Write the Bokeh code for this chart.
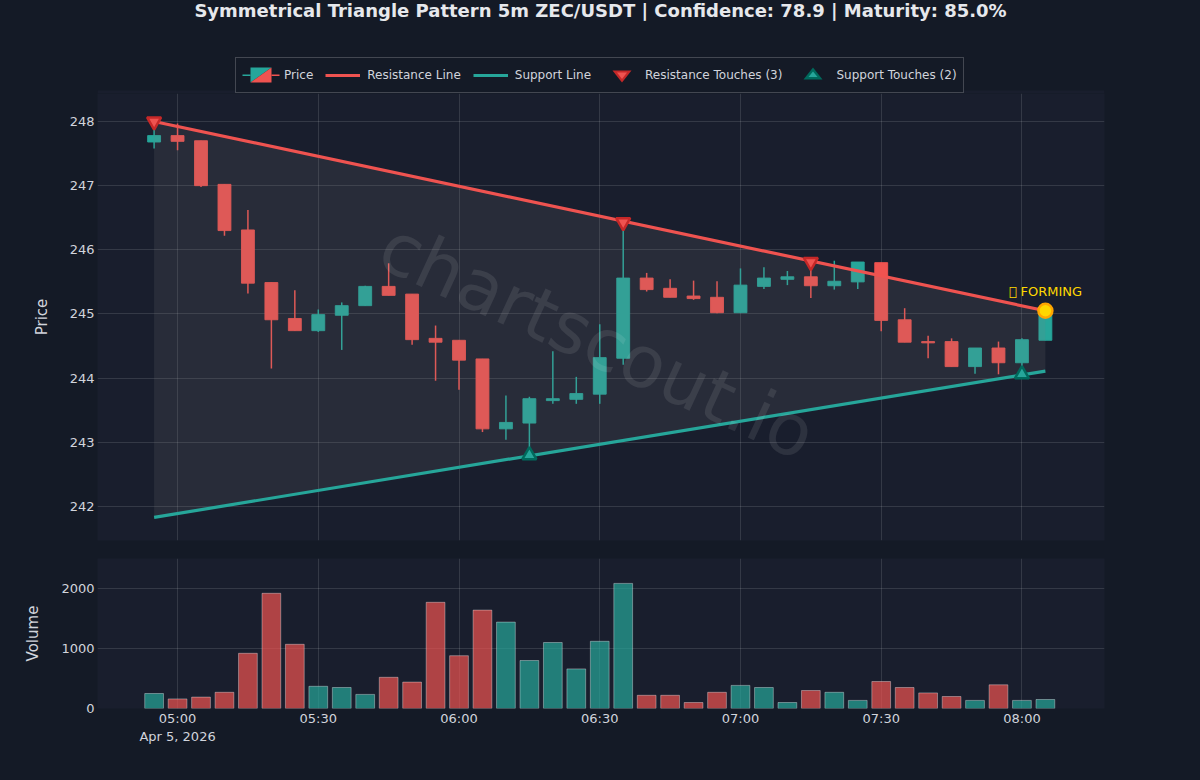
import pandas as pd
from bokeh.embed import file_html
from bokeh.resources import INLINE
from bokeh.layouts import column
from bokeh.plotting import figure
from bokeh.models import (BoxAnnotation, ColumnDataSource, FixedTicker, Label, Legend, LegendItem, PolyAnnotation, Range1d)

TITLE = "Symmetrical Triangle Pattern 5m ZEC/USDT | Confidence: 78.9 | Maturity: 85.0%"
START = "2026-04-05 04:55"

opens = [247.68,247.78,247.70,247.02,246.31,245.49,244.93,244.74,244.98,245.13,245.43,245.31,244.62,244.59,244.30,243.21,243.30,243.65,243.67,243.75,
         244.31,245.56,245.40,245.28,245.26,245.02,245.43,245.54,245.58,245.44,245.50,245.80,244.91,244.57,244.57,244.18,244.47,244.24,244.59]
highs = [247.98,247.97,247.70,247.02,246.62,245.49,245.37,245.07,245.18,245.44,245.79,245.31,244.82,244.59,244.30,243.73,243.71,244.42,244.02,244.84,
         246.43,245.64,245.54,245.52,245.51,245.71,245.73,245.67,245.86,245.83,245.81,245.80,245.09,244.66,244.62,244.47,244.57,244.62,245.07]
lows = [247.58,247.55,246.98,246.22,245.32,244.15,244.74,244.72,244.44,245.13,245.29,244.52,243.96,243.82,243.16,243.04,242.82,243.60,243.60,243.60,
        244.21,245.35,245.26,245.22,245.01,245.02,245.39,245.45,245.25,245.38,245.39,244.73,244.56,244.31,244.18,244.07,244.06,244.08,244.59]
closes = [247.78,247.69,247.00,246.30,245.48,244.91,244.74,244.99,245.13,245.43,245.29,244.60,244.56,244.28,243.21,243.31,243.68,243.68,243.76,244.32,
          245.56,245.38,245.26,245.24,245.02,245.45,245.56,245.58,245.44,245.51,245.81,244.90,244.56,244.55,244.18,244.47,244.24,244.60,245.00]
volumes = [250,160,190,270,920,1920,1070,370,350,235,520,440,1770,880,1640,1440,800,1100,660,1120,
           2085,220,220,100,270,385,350,100,300,270,135,450,350,260,200,135,395,135,150]

resistance_times = ["2026-04-05 04:55", "2026-04-05 08:05"]
resistance_prices = [248.0, 245.05]
support_times = ["2026-04-05 04:55", "2026-04-05 08:05"]
support_prices = [241.83, 244.11]
res_touch_times = ["2026-04-05 04:55", "2026-04-05 06:35", "2026-04-05 07:15"]
res_touch_prices = [248.0, 246.43, 245.81]
sup_touch_times = ["2026-04-05 06:15", "2026-04-05 08:00"]
sup_touch_prices = [242.80, 244.06]
forming_time = ["2026-04-05 08:05"]
forming_price = [245.05]
forming_text = "\uE000 FORMING"

x_tick_times = ["2026-04-05 05:00", "2026-04-05 05:30", "2026-04-05 06:00", "2026-04-05 06:30", "2026-04-05 07:00", "2026-04-05 07:30", "2026-04-05 08:00"]
x_tick_labels = ["05:00\nApr 5, 2026", "05:30", "06:00", "06:30", "07:00", "07:30", "08:00"]
price_ticks = [242, 243, 244, 245, 246, 247, 248]
volume_ticks = [0, 1000, 2000]

PAGE = "#141a26"
PLOT = "#191e2d"
RED = "#ef5350"
TEAL = "#26a69a"
DARK_RED = "#c62828"
DARK_TEAL = "#00695c"
TEXT = "#d1d4dc"
FONT = "DejaVu Sans"
CANVAS = {"background-color": PAGE}
W, H0 = 1200, 93


def ms(values):
    return [pd.Timestamp(v).value / 1e6 for v in values]


times = [pd.Timestamp(START) + pd.Timedelta(minutes=5 * i) for i in range(len(opens))]
tx = ms(times)
STEP = 5 * 60 * 1000
x_range = Range1d(ms(["2026-04-05 04:42:56"])[0], ms(["2026-04-05 08:17:36"])[0])
colors = [TEAL if c >= o else RED for o, c in zip(opens, closes)]
src = ColumnDataSource(dict(x=tx, o=opens, h=highs, l=lows, c=closes, v=volumes, color=colors))


def style(p):
    p.background_fill_color = PLOT
    p.border_fill_color = None
    p.outline_line_color = None
    for ax in p.axis:
        ax.axis_line_color = None
        ax.major_tick_line_color = None
        ax.minor_tick_line_color = None
        ax.major_label_text_color = TEXT
        ax.major_label_text_font = FONT
        ax.major_label_text_font_size = "13px"
        ax.axis_label_text_color = TEXT
        ax.axis_label_text_font = FONT
        ax.axis_label_text_font_size = "15px"
        ax.axis_label_text_font_style = "normal"
    for g in p.grid:
        g.grid_line_color = "#ffffff"
        g.grid_line_alpha = 0.12
        g.grid_line_width = 1


# ---- header: title and legend (its frame is aligned to the panels below) ----
header = figure(width=W, height=H0, x_range=Range1d(97, 1104), y_range=Range1d(H0, 0),
                output_backend="svg", toolbar_location=None, styles=CANVAS,
                min_border=0, min_border_left=97, min_border_right=96, x_axis_location=None, y_axis_location=None)
header.grid.visible = False
header.outline_line_color = None
header.background_fill_color = None
header.border_fill_color = None
for left, right in ((97, 235), (963, 1104)):
    header.add_layout(BoxAnnotation(left=left, right=right, top=90, bottom=93, fill_color=PLOT, fill_alpha=1.0,
                                    line_color=None, level="underlay"))
header.add_layout(Label(x=600, y=10, text=TITLE, text_align="center", text_baseline="middle",
                        text_color="#e6e8ec", text_font=FONT, text_font_size="18px", text_font_style="bold"))
OFF = [-50, -40]
key_price = header.segment(OFF, OFF, OFF, OFF, line_alpha=0)
key_res = header.line(OFF, OFF, line_color=RED, line_width=3.2)
key_sup = header.line(OFF, OFF, line_color=TEAL, line_width=3.2)
key_res_t = header.scatter(OFF, OFF, marker="inverted_triangle", fill_alpha=0, line_alpha=0)
key_sup_t = header.scatter(OFF, OFF, marker="triangle", fill_alpha=0, line_alpha=0)
legend = Legend(items=[
    LegendItem(label="Price", renderers=[key_price]),
    LegendItem(label="Resistance Line", renderers=[key_res]),
    LegendItem(label="Support Line", renderers=[key_sup]),
    LegendItem(label="Resistance Touches (3)", renderers=[key_res_t]),
    LegendItem(label="Support Touches (2)", renderers=[key_sup_t]),
], orientation="horizontal", location=(138, 0), glyph_width=35, glyph_height=22,
    label_standoff=7, spacing=12, padding=6, margin=0,
    background_fill_alpha=0,
    border_line_color="#ffffff", border_line_alpha=0.2, border_line_width=1,
    label_text_color=TEXT, label_text_font=FONT, label_text_font_size="12px")
header.add_layout(legend)


def icon(xs, ys, fill):
    header.add_layout(PolyAnnotation(xs=xs, ys=ys, fill_color=fill, fill_alpha=1.0, line_color=None,
                                     level="overlay"))


icon([242, 250, 250, 242], [74, 74, 75.5, 75.5], TEAL)
icon([250, 271, 250], [67, 67, 82], TEAL)
icon([271, 271, 250], [67, 82, 82], RED)
icon([271, 279, 279, 271], [74, 74, 75.5, 75.5], RED)
icon([612, 631, 621.5], [70, 70, 82], DARK_RED)
icon([616.5, 626.5, 621.5], [72, 72, 78.5], RED)
icon([803, 822, 812.5], [79, 79, 67], DARK_TEAL)
icon([808, 817, 812.5], [76.5, 76.5, 71], TEAL)

# ---- price panel ----
main = figure(width=W, height=457, x_range=x_range, y_range=Range1d(241.47, 248.436),
              x_axis_type="datetime", output_backend="svg", toolbar_location=None, styles=CANVAS,
              min_border_left=97, min_border_right=96, min_border_top=0, min_border_bottom=10)
main.xaxis.visible = False
main.xgrid.ticker = FixedTicker(ticks=ms(x_tick_times))
main.yaxis.ticker = FixedTicker(ticks=price_ticks)
main.yaxis.axis_label = "Price"
main.yaxis.major_label_standoff = -3
main.yaxis.axis_label_standoff = 16
style(main)

main.segment("x", "h", "x", "l", source=src, line_color="color", line_width=1.5)
main.vbar("x", width=STEP * 0.55, bottom="o", top="c", source=src,
          fill_color="color", line_color="color", line_alpha=0.9, line_width=1)

area_x = ms(resistance_times) + ms(support_times)[::-1]
area_y = resistance_prices + support_prices[::-1]
main.patch(area_x, area_y, fill_color="#808080", fill_alpha=0.15, line_color=None)

main.line(ms(resistance_times), resistance_prices, line_color=RED, line_width=3.2)
main.line(ms(support_times), support_prices, line_color=TEAL, line_width=3.2)
main.scatter(ms(res_touch_times), res_touch_prices, marker="inverted_triangle", size=14,
             fill_color=RED, line_color=DARK_RED, line_width=2.5)
main.scatter(ms(sup_touch_times), sup_touch_prices, marker="triangle", size=14,
             fill_color=TEAL, line_color=DARK_TEAL, line_width=2.5)
main.scatter(ms(forming_time), forming_price, marker="circle", size=14,
             fill_color="#ffd700", line_color="#ffa500", line_width=2.5)
main.add_layout(Label(x=ms(forming_time)[0], y=forming_price[0], y_offset=19, text=forming_text,
                      text_align="center", text_baseline="middle", text_color="#ffd700",
                      text_font=FONT, text_font_size="13px"))
main.add_layout(Label(x=597, y=340 - H0, x_units="canvas", y_units="canvas", text="chartscout.io", angle=-24.8,
                      angle_units="deg", text_align="center", text_baseline="middle",
                      text_color="#ffffff", text_alpha=0.09, text_font=FONT, text_font_size="72px"))

# ---- volume panel ----
vol = figure(width=W, height=230, x_range=x_range, y_range=Range1d(0, 2500),
             x_axis_type="datetime", output_backend="svg", toolbar_location=None, styles=CANVAS,
             min_border_left=97, min_border_right=96, min_border_top=8, min_border_bottom=72)
vol.xaxis.ticker = FixedTicker(ticks=ms(x_tick_times))
vol.xaxis.major_label_overrides = dict(zip(ms(x_tick_times), x_tick_labels))
vol.xgrid.ticker = FixedTicker(ticks=ms(x_tick_times))
vol.yaxis.ticker = FixedTicker(ticks=volume_ticks)
vol.yaxis.axis_label = "Volume"
vol.yaxis.major_label_standoff = -3
vol.yaxis.axis_label_standoff = 16
vol.xaxis.major_label_standoff = -4
style(vol)
vol.vbar("x", width=STEP * 0.8, bottom=0, top="v", source=src, fill_color="color", fill_alpha=0.7,
         line_color="#ffffff", line_alpha=0.35, line_width=1)

p = column(header, main, vol, spacing=0, styles=CANVAS)
open("out.html", "w").write(file_html(p, INLINE))
